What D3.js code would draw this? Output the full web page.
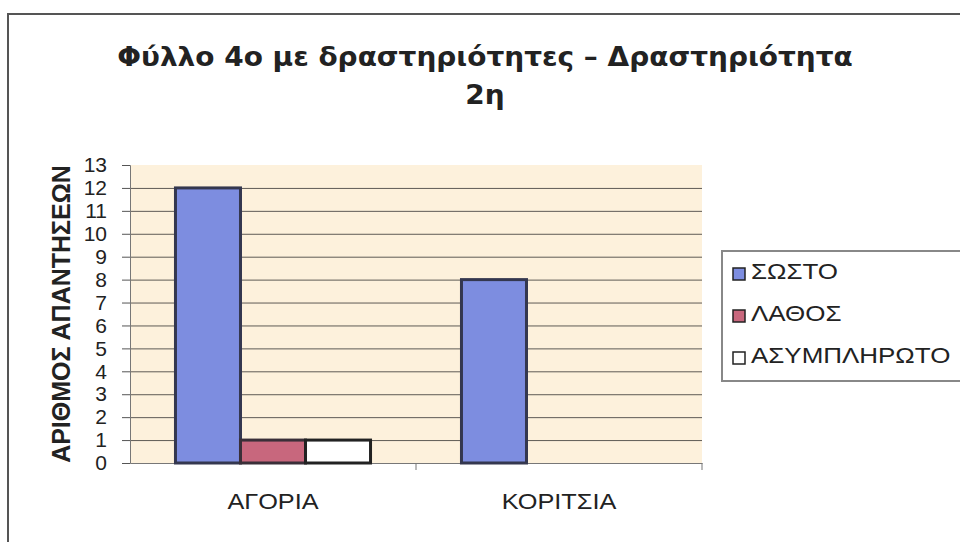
<!DOCTYPE html>
<html>
<head>
<meta charset="utf-8">
<script src="https://cdn.jsdelivr.net/npm/d3@7"></script>
<style>
  html, body { margin: 0; padding: 0; background: #fff; }
  svg { display: block; }
</style>
</head>
<body>
<svg id="chart" width="960" height="542"></svg>
<script>
// Chart data
const categories = ["ΑΓΟΡΙΑ", "ΚΟΡΙΤΣΙΑ"];
const seriesNames = ["ΣΩΣΤΟ", "ΛΑΘΟΣ", "ΑΣΥΜΠΛΗΡΩΤΟ"];
const sostoValues = [12, 8];
const lathosValues = [1, 0];
const asymplirotoValues = [1, 0];
const yTicks = [0, 1, 2, 3, 4, 5, 6, 7, 8, 9, 10, 11, 12, 13];
const titleLines = ["Φύλλο 4ο με δραστηριότητες – Δραστηριότητα", "2η"];
const yAxisTitle = "ΑΡΙΘΜΟΣ ΑΠΑΝΤΗΣΕΩΝ";

const seriesValues = [sostoValues, lathosValues, asymplirotoValues];
const seriesColors = ["#7d8de0", "#c8677d", "#ffffff"];
const seriesStroke = ["#34374f", "#3a2f38", "#222222"];

const svg = d3.select("#chart");

// Outer chart frame
svg.append("path")
  .attr("d", "M8,542 L8,14 L960,14")
  .attr("fill", "none")
  .attr("stroke", "#555")
  .attr("stroke-width", 2);

// Plot area geometry
const plot = { left: 130, right: 702, top: 165, bottom: 463 };

const y = d3.scaleLinear().domain([0, 13]).range([plot.bottom, plot.top]);
const x0 = d3.scaleBand().domain(categories).range([plot.left, plot.right]);
const bw = x0.bandwidth();
const gap = bw * 0.159;
const x1 = d3.scaleBand().domain(seriesNames).range([gap, bw - gap]);

// Plot background
svg.append("rect")
  .attr("x", plot.left).attr("y", plot.top)
  .attr("width", plot.right - plot.left)
  .attr("height", plot.bottom - plot.top)
  .attr("fill", "#fdf1dc");

// Horizontal gridlines
svg.append("g")
  .selectAll("line")
  .data(yTicks.filter(t => t > 0 && t < 13))
  .join("line")
  .attr("x1", plot.left).attr("x2", plot.right)
  .attr("y1", d => y(d) + 0.5).attr("y2", d => y(d) + 0.5)
  .attr("stroke", "#5e5a55")
  .attr("stroke-width", 1);

// Y axis
const yAxis = d3.axisLeft(y).tickValues(yTicks).tickSize(8).tickPadding(15).tickFormat(d3.format("d"));
const yg = svg.append("g")
  .attr("transform", `translate(${plot.left},0)`)
  .call(yAxis);
yg.select(".domain").attr("stroke", "#777").attr("stroke-width", 1);
yg.selectAll(".tick line").attr("stroke", "#555");
yg.selectAll(".tick text")
  .attr("fill", "#222")
  .attr("font-family", "Liberation Sans, Arial, sans-serif")
  .attr("font-size", 21);

// X axis
const xAxis = d3.axisBottom(x0).tickSize(0).tickPadding(0).tickFormat("");
const xg = svg.append("g")
  .attr("transform", `translate(0,${plot.bottom})`)
  .call(xAxis);
xg.select(".domain").attr("stroke", "#777").attr("stroke-width", 1);
// category divider ticks
xg.selectAll("line.divider")
  .data([plot.left + bw, plot.right])
  .join("line")
  .attr("class", "divider")
  .attr("x1", d => d).attr("x2", d => d)
  .attr("y1", 0).attr("y2", 7)
  .attr("stroke", "#777");

// Category labels
svg.append("g")
  .selectAll("text")
  .data(categories)
  .join("text")
  .attr("transform", d => `translate(${x0(d) + bw / 2},509) scale(1.15,1)`)
  .attr("text-anchor", "middle")
  .attr("font-family", "Liberation Sans, Arial, sans-serif")
  .attr("font-size", 22)
  .attr("fill", "#222")
  .text(d => d);

// Bars
const barData = [];
categories.forEach((c, ci) => {
  seriesNames.forEach((s, si) => {
    const v = seriesValues[si][ci];
    if (v > 0) barData.push({ c, s, si, v });
  });
});
svg.append("g")
  .selectAll("rect")
  .data(barData)
  .join("rect")
  .attr("x", d => x0(d.c) + x1(d.s))
  .attr("y", d => y(d.v))
  .attr("width", x1.bandwidth())
  .attr("height", d => y(0) - y(d.v))
  .attr("fill", d => seriesColors[d.si])
  .attr("stroke", d => seriesStroke[d.si])
  .attr("stroke-width", 3);

// Title, two centred lines sharing one horizontal scale
const titleG = svg.append("g");
const titleBaselines = [66, 104];
const titleTexts = titleLines.map(t => titleG.append("text")
  .attr("text-anchor", "middle")
  .attr("font-family", "DejaVu Sans, Verdana, sans-serif")
  .attr("font-weight", "bold")
  .attr("font-size", 27)
  .attr("fill", "#222")
  .text(t));
const titleScale = 736 / titleTexts[0].node().getComputedTextLength();
titleTexts.forEach((tx, i) =>
  tx.attr("transform", `translate(485,${titleBaselines[i]}) scale(${titleScale},1)`));

// Y axis title
svg.append("text")
  .attr("transform", "translate(70,314) rotate(-90)")
  .attr("text-anchor", "middle")
  .attr("font-family", "Liberation Sans, Arial, sans-serif")
  .attr("font-weight", "bold")
  .attr("font-size", 25)
  .attr("fill", "#222")
  .text(yAxisTitle);

// Legend
const legend = svg.append("g");
legend.append("rect")
  .attr("x", 722).attr("y", 251)
  .attr("width", 250).attr("height", 130)
  .attr("fill", "#fff")
  .attr("stroke", "#888")
  .attr("stroke-width", 2);
const legendRows = [279, 321, 363];
const items = legend.selectAll("g.item")
  .data(seriesNames)
  .join("g")
  .attr("class", "item")
  .attr("transform", (d, i) => `translate(733,${legendRows[i]})`);
items.append("rect")
  .attr("x", 0).attr("y", -11)
  .attr("width", 12).attr("height", 12)
  .attr("fill", (d, i) => seriesColors[i])
  .attr("stroke", "#222")
  .attr("stroke-width", 1.5);
items.append("text")
  .attr("transform", "translate(18,0) scale(1.18,1)")
  .attr("font-family", "Liberation Sans, Arial, sans-serif")
  .attr("font-size", 22)
  .attr("fill", "#222")
  .text(d => d);
</script>
</body>
</html>
